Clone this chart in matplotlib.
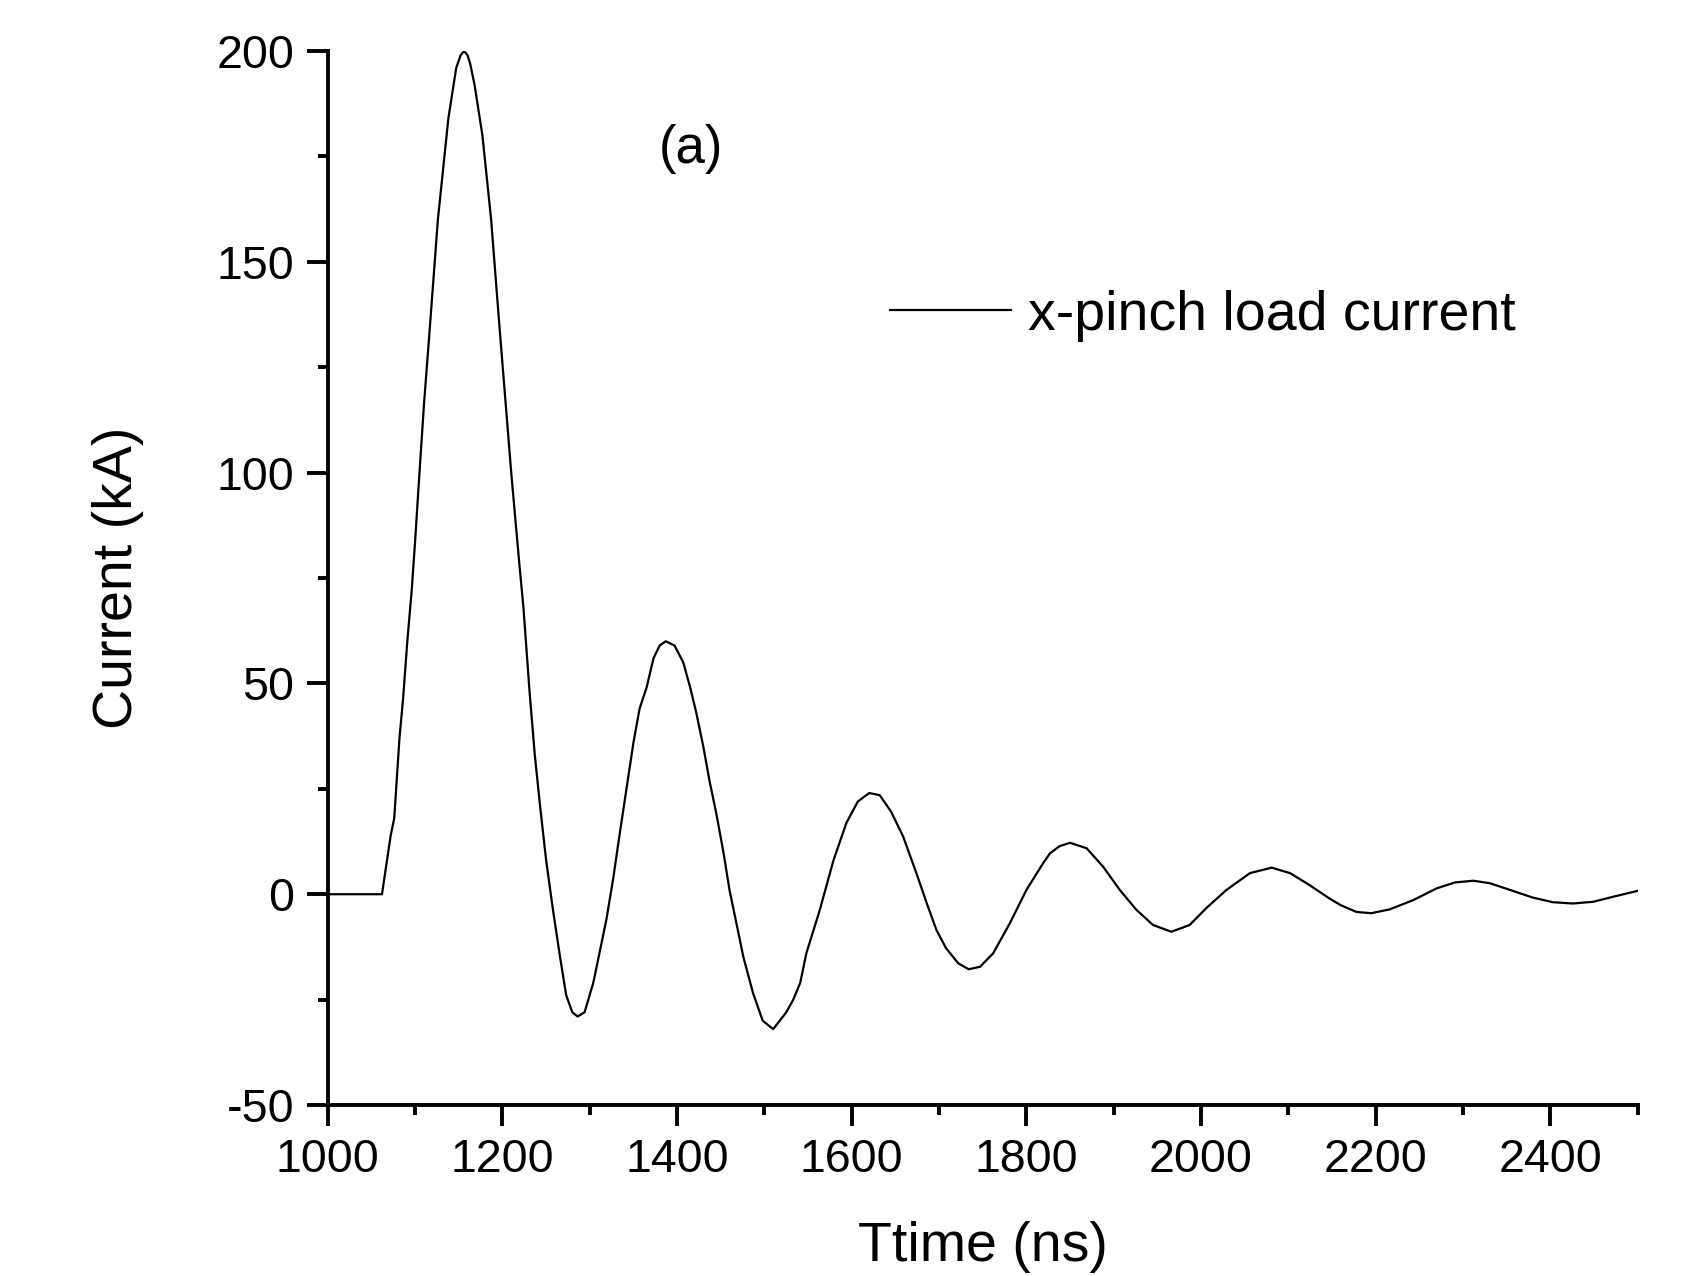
import matplotlib
matplotlib.use("Agg")
import matplotlib.pyplot as plt
from matplotlib.ticker import MultipleLocator

plt.rcParams['font.family'] = ['Liberation Sans', 'DejaVu Sans']
plt.rcParams['axes.unicode_minus'] = False

# x-pinch load current
time_ns = [1000, 1062, 1072, 1076, 1082, 1086, 1091, 1096, 1100, 1104,
           1110, 1117, 1126, 1138, 1147, 1152, 1156, 1160, 1163, 1168, 1177, 1187,
           1196, 1210, 1219, 1224, 1231, 1237, 1243, 1250, 1258, 1266,
           1273, 1280, 1286, 1294, 1304, 1311, 1319, 1327, 1334, 1342,
           1350, 1357, 1365, 1373, 1380, 1387, 1397, 1407, 1415, 1422,
           1430, 1437, 1445, 1453, 1460, 1468, 1476, 1487, 1498, 1510,
           1525, 1533, 1541, 1548, 1563, 1579, 1594, 1607, 1620, 1632,
           1645, 1659, 1674, 1686, 1697, 1708, 1722, 1734, 1747, 1762,
           1781, 1800, 1819, 1827, 1838, 1850, 1869, 1888, 1907, 1926,
           1945, 1966, 1987, 2006, 2029, 2056, 2081, 2102, 2124, 2147,
           2160, 2178, 2195, 2216, 2243, 2270, 2291, 2312, 2331, 2357,
           2380, 2403, 2426, 2449, 2472, 2500]
current_kA = [0, 0, 14, 18, 37, 46, 60, 72, 84, 97,
              116, 135, 160, 184, 196, 199, 200, 199, 197, 192, 180, 160,
              136, 100, 79, 68, 48, 33, 21, 8, -4, -15,
              -24, -28, -29, -28, -21, -14, -6, 4, 14, 25,
              36, 44, 49, 56, 59, 60, 59, 55, 49, 43,
              35, 27, 19, 10, 1, -7, -15, -23.5, -30, -32,
              -28, -25, -21, -14, -4, 8, 17, 22, 24, 23.5,
              19.6, 13.6, 5, -2.2, -8.5, -12.8, -16.4, -17.8, -17.2, -14,
              -6.9, 1, 7.3, 9.7, 11.4, 12.2, 10.9, 6.5, 1, -3.7,
              -7.3, -8.9, -7.3, -3.3, 1, 5, 6.3, 5, 2.2, -1,
              -2.6, -4.2, -4.5, -3.6, -1.4, 1.4, 2.8, 3.2, 2.6, 0.8,
              -0.8, -1.9, -2.2, -1.8, -0.6, 0.8]

fig = plt.figure(figsize=(16.9, 12.76), dpi=100)
ax = fig.add_axes([0.194, 0.134, 0.775, 0.826])

ax.plot(time_ns, current_kA, color='black', lw=1.6, label='x-pinch load current')

ax.set_xlim(1000, 2500)
ax.set_ylim(-50, 200)
ax.xaxis.set_major_locator(MultipleLocator(200))
ax.xaxis.set_minor_locator(MultipleLocator(100))
ax.yaxis.set_major_locator(MultipleLocator(50))
ax.yaxis.set_minor_locator(MultipleLocator(25))

for side in ['top', 'right']:
    ax.spines[side].set_visible(False)
for side in ['left', 'bottom']:
    ax.spines[side].set_linewidth(2.8)

ax.tick_params(which='major', direction='out', length=15, width=2.8,
               labelsize=33.5, pad=9)
ax.tick_params(which='minor', direction='out', length=7.5, width=2.8)

ax.set_xlabel('Ttime (ns)', fontsize=40)
ax.set_ylabel('Current (kA)', fontsize=40)
ax.xaxis.set_label_coords(0.5, -0.110)
ax.yaxis.set_label_coords(-0.140, 0.5)

ax.text(0.277, 0.907, '(a)', transform=ax.transAxes, fontsize=38,
        ha='center', va='center')

ax.legend(loc='center left', bbox_to_anchor=(0.429, 0.749), frameon=False,
          fontsize=40, handlelength=2.18, handletextpad=0.3,
          borderpad=0, borderaxespad=0)

fig.savefig('out.png', dpi=100)
